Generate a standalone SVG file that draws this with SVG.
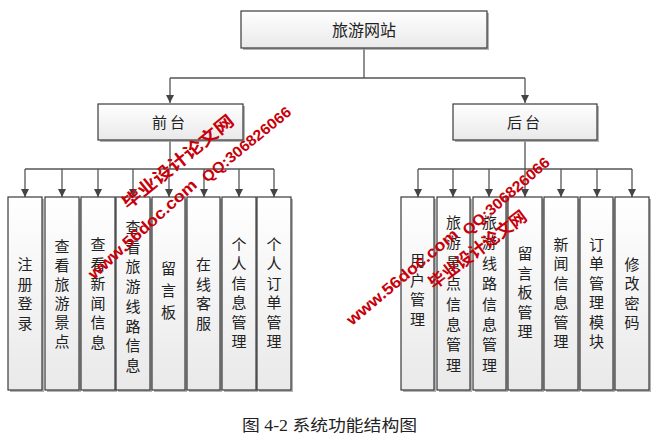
<svg xmlns="http://www.w3.org/2000/svg" width="663" height="447" viewBox="0 0 663 447">
  <defs>
    <linearGradient id="g" x1="0" y1="0" x2="0" y2="1">
      <stop offset="0" stop-color="#ffffff"/>
      <stop offset="1" stop-color="#e9e9e9"/>
    </linearGradient>
    <marker id="arr" markerUnits="userSpaceOnUse" markerWidth="9" markerHeight="9" refX="8" refY="4" orient="auto">
      <path d="M0,0 L8,4 L0,8 z" fill="#444"/>
    </marker>
  </defs>
  <style>
    .box { fill: url(#g); stroke: #3a3a3a; stroke-width: 1.2; }
    .sh { fill: #9a9a9a; opacity: 0.75; }
    .t { font-family: "Noto Sans CJK SC", sans-serif; font-size: 15px; fill: #222; text-anchor: middle; }
    .tt { font-size: 16px; }
    .ln { fill: none; stroke: #555; stroke-width: 1.3; }
    .wm { font-family: "Liberation Sans", "Noto Sans CJK SC", sans-serif; font-weight: bold; fill: #c8000a; }
    .cap { font-family: "Liberation Serif", "Noto Sans CJK SC", serif; font-size: 16px; fill: #222; }
  </style>
  <rect width="663" height="447" fill="#ffffff"/>

  <g id="connectors">
    <path class="ln" d="M364,48 V78 M170,78 H525"/>
    <path class="ln" d="M170,78 V103" marker-end="url(#arr)"/>
    <path class="ln" d="M525,78 V103" marker-end="url(#arr)"/>
    <path class="ln" d="M170,141 V169 M25,169 H274"/>
    <path class="ln" d="M25,169 V197" marker-end="url(#arr)"/>
    <path class="ln" d="M62,169 V197" marker-end="url(#arr)"/>
    <path class="ln" d="M98,169 V197" marker-end="url(#arr)"/>
    <path class="ln" d="M133,169 V197" marker-end="url(#arr)"/>
    <path class="ln" d="M169,169 V197" marker-end="url(#arr)"/>
    <path class="ln" d="M204,169 V197" marker-end="url(#arr)"/>
    <path class="ln" d="M239,169 V197" marker-end="url(#arr)"/>
    <path class="ln" d="M274,169 V197" marker-end="url(#arr)"/>
    <path class="ln" d="M525,141 V169 M418,169 H632"/>
    <path class="ln" d="M418,169 V197" marker-end="url(#arr)"/>
    <path class="ln" d="M453,169 V197" marker-end="url(#arr)"/>
    <path class="ln" d="M489,169 V197" marker-end="url(#arr)"/>
    <path class="ln" d="M525,169 V197" marker-end="url(#arr)"/>
    <path class="ln" d="M561,169 V197" marker-end="url(#arr)"/>
    <path class="ln" d="M597,169 V197" marker-end="url(#arr)"/>
    <path class="ln" d="M632,169 V197" marker-end="url(#arr)"/>
  </g>

  <g id="n-root">
    <rect class="sh" x="243" y="13" width="246" height="37"/>
    <rect class="box" x="241" y="11" width="246" height="37"/>
    <text class="t tt" x="364" y="35.5">旅游网站</text>
  </g>
  <g id="n-front">
    <rect class="sh" x="100" y="106" width="145" height="36"/>
    <rect class="box" x="98" y="104" width="145" height="36"/>
    <text class="t" x="170" y="128" letter-spacing="3">前台</text>
  </g>
  <g id="n-back">
    <rect class="sh" x="455" y="106" width="144" height="36"/>
    <rect class="box" x="453" y="104" width="144" height="36"/>
    <text class="t" x="525" y="128" letter-spacing="3">后台</text>
  </g>

  <!-- front children -->
  <g id="n-f1">
    <rect class="sh" x="10" y="199" width="34" height="193"/>
    <rect class="box" x="8" y="197" width="34" height="193"/>
    <text class="t"><tspan x="25" y="270">注</tspan><tspan x="25" dy="19.5">册</tspan><tspan x="25" dy="19.5">登</tspan><tspan x="25" dy="19.5">录</tspan></text>
  </g>
  <g id="n-f2">
    <rect class="sh" x="47" y="199" width="34" height="193"/>
    <rect class="box" x="45" y="197" width="34" height="193"/>
    <text class="t"><tspan x="62" y="252">查</tspan><tspan x="62" dy="19">看</tspan><tspan x="62" dy="19">旅</tspan><tspan x="62" dy="19">游</tspan><tspan x="62" dy="19">景</tspan><tspan x="62" dy="19">点</tspan></text>
  </g>
  <g id="n-f3">
    <rect class="sh" x="83" y="199" width="34" height="193"/>
    <rect class="box" x="81" y="197" width="34" height="193"/>
    <text class="t"><tspan x="98" y="250">查</tspan><tspan x="98" dy="19.5">看</tspan><tspan x="98" dy="19.5">新</tspan><tspan x="98" dy="19.5">闻</tspan><tspan x="98" dy="19.5">信</tspan><tspan x="98" dy="19.5">息</tspan></text>
  </g>
  <g id="n-f4">
    <rect class="sh" x="118" y="199" width="34" height="193"/>
    <rect class="box" x="116" y="197" width="34" height="193"/>
    <text class="t"><tspan x="133" y="233">查</tspan><tspan x="133" dy="19.7">看</tspan><tspan x="133" dy="19.7">旅</tspan><tspan x="133" dy="19.7">游</tspan><tspan x="133" dy="19.7">线</tspan><tspan x="133" dy="19.7">路</tspan><tspan x="133" dy="19.7">信</tspan><tspan x="133" dy="19.7">息</tspan></text>
  </g>
  <g id="n-f5">
    <rect class="sh" x="154" y="199" width="33" height="193"/>
    <rect class="box" x="152" y="197" width="33" height="193"/>
    <text class="t"><tspan x="168.5" y="274">留</tspan><tspan x="168.5" dy="22">言</tspan><tspan x="168.5" dy="22">板</tspan></text>
  </g>
  <g id="n-f6">
    <rect class="sh" x="189" y="199" width="33" height="193"/>
    <rect class="box" x="187" y="197" width="33" height="193"/>
    <text class="t"><tspan x="203.5" y="270">在</tspan><tspan x="203.5" dy="19.5">线</tspan><tspan x="203.5" dy="19.5">客</tspan><tspan x="203.5" dy="19.5">服</tspan></text>
  </g>
  <g id="n-f7">
    <rect class="sh" x="224" y="199" width="34" height="193"/>
    <rect class="box" x="222" y="197" width="34" height="193"/>
    <text class="t"><tspan x="239" y="250">个</tspan><tspan x="239" dy="19.4">人</tspan><tspan x="239" dy="19.4">信</tspan><tspan x="239" dy="19.4">息</tspan><tspan x="239" dy="19.4">管</tspan><tspan x="239" dy="19.4">理</tspan></text>
  </g>
  <g id="n-f8">
    <rect class="sh" x="259" y="199" width="34" height="193"/>
    <rect class="box" x="257" y="197" width="34" height="193"/>
    <text class="t"><tspan x="274" y="250">个</tspan><tspan x="274" dy="19.4">人</tspan><tspan x="274" dy="19.4">订</tspan><tspan x="274" dy="19.4">单</tspan><tspan x="274" dy="19.4">管</tspan><tspan x="274" dy="19.4">理</tspan></text>
  </g>

  <!-- back children -->
  <g id="n-b1">
    <rect class="sh" x="403" y="199" width="33" height="193"/>
    <rect class="box" x="401" y="197" width="33" height="193"/>
    <text class="t"><tspan x="417.5" y="266">用</tspan><tspan x="417.5" dy="19.5">户</tspan><tspan x="417.5" dy="19.5">管</tspan><tspan x="417.5" dy="19.5">理</tspan></text>
  </g>
  <g id="n-b2">
    <rect class="sh" x="439" y="199" width="33" height="193"/>
    <rect class="box" x="437" y="197" width="33" height="193"/>
    <text class="t"><tspan x="453.5" y="228">旅</tspan><tspan x="453.5" dy="20.4">游</tspan><tspan x="453.5" dy="20.4">景</tspan><tspan x="453.5" dy="20.4">点</tspan><tspan x="453.5" dy="20.4">信</tspan><tspan x="453.5" dy="20.4">息</tspan><tspan x="453.5" dy="20.4">管</tspan><tspan x="453.5" dy="20.4">理</tspan></text>
  </g>
  <g id="n-b3">
    <rect class="sh" x="475" y="199" width="33" height="193"/>
    <rect class="box" x="473" y="197" width="33" height="193"/>
    <text class="t"><tspan x="489.5" y="228">旅</tspan><tspan x="489.5" dy="20.4">游</tspan><tspan x="489.5" dy="20.4">线</tspan><tspan x="489.5" dy="20.4">路</tspan><tspan x="489.5" dy="20.4">信</tspan><tspan x="489.5" dy="20.4">息</tspan><tspan x="489.5" dy="20.4">管</tspan><tspan x="489.5" dy="20.4">理</tspan></text>
  </g>
  <g id="n-b4">
    <rect class="sh" x="510" y="199" width="34" height="193"/>
    <rect class="box" x="508" y="197" width="34" height="193"/>
    <text class="t"><tspan x="525" y="259">留</tspan><tspan x="525" dy="19.5">言</tspan><tspan x="525" dy="19.5">板</tspan><tspan x="525" dy="19.5">管</tspan><tspan x="525" dy="19.5">理</tspan></text>
  </g>
  <g id="n-b5">
    <rect class="sh" x="546" y="199" width="34" height="193"/>
    <rect class="box" x="544" y="197" width="34" height="193"/>
    <text class="t"><tspan x="561" y="250">新</tspan><tspan x="561" dy="19.4">闻</tspan><tspan x="561" dy="19.4">信</tspan><tspan x="561" dy="19.4">息</tspan><tspan x="561" dy="19.4">管</tspan><tspan x="561" dy="19.4">理</tspan></text>
  </g>
  <g id="n-b6">
    <rect class="sh" x="582" y="199" width="33" height="193"/>
    <rect class="box" x="580" y="197" width="33" height="193"/>
    <text class="t"><tspan x="596.5" y="250">订</tspan><tspan x="596.5" dy="19.4">单</tspan><tspan x="596.5" dy="19.4">管</tspan><tspan x="596.5" dy="19.4">理</tspan><tspan x="596.5" dy="19.4">模</tspan><tspan x="596.5" dy="19.4">块</tspan></text>
  </g>
  <g id="n-b7">
    <rect class="sh" x="617" y="199" width="34" height="193"/>
    <rect class="box" x="615" y="197" width="34" height="193"/>
    <text class="t"><tspan x="632" y="270">修</tspan><tspan x="632" dy="19.4">改</tspan><tspan x="632" dy="19.4">密</tspan><tspan x="632" dy="19.4">码</tspan></text>
  </g>

  <!-- caption -->
  <text class="cap" x="242" y="431" textLength="175" lengthAdjust="spacingAndGlyphs">图 4-2 系统功能结构图</text>

  <!-- watermarks -->
  <g id="watermark">
    <text class="wm" font-size="17" transform="translate(128,210) rotate(-39)" textLength="138" lengthAdjust="spacingAndGlyphs">毕业设计论文网</text>
    <text class="wm" font-size="16" transform="translate(94,280) rotate(-42)" textLength="140" lengthAdjust="spacingAndGlyphs">www.56doc.com</text>
    <text class="wm" font-size="15" transform="translate(207,183) rotate(-39)" textLength="110" lengthAdjust="spacingAndGlyphs">QQ:306826066</text>
    <text class="wm" font-size="16" transform="translate(352,326) rotate(-40)" textLength="140" lengthAdjust="spacingAndGlyphs">www.56doc.com</text>
    <text class="wm" font-size="15" transform="translate(468,236) rotate(-41)" textLength="110" lengthAdjust="spacingAndGlyphs">QQ:306826066</text>
    <text class="wm" font-size="17" transform="translate(434,290) rotate(-37)" textLength="118" lengthAdjust="spacingAndGlyphs">毕业设计论文网</text>
  </g>
</svg>
